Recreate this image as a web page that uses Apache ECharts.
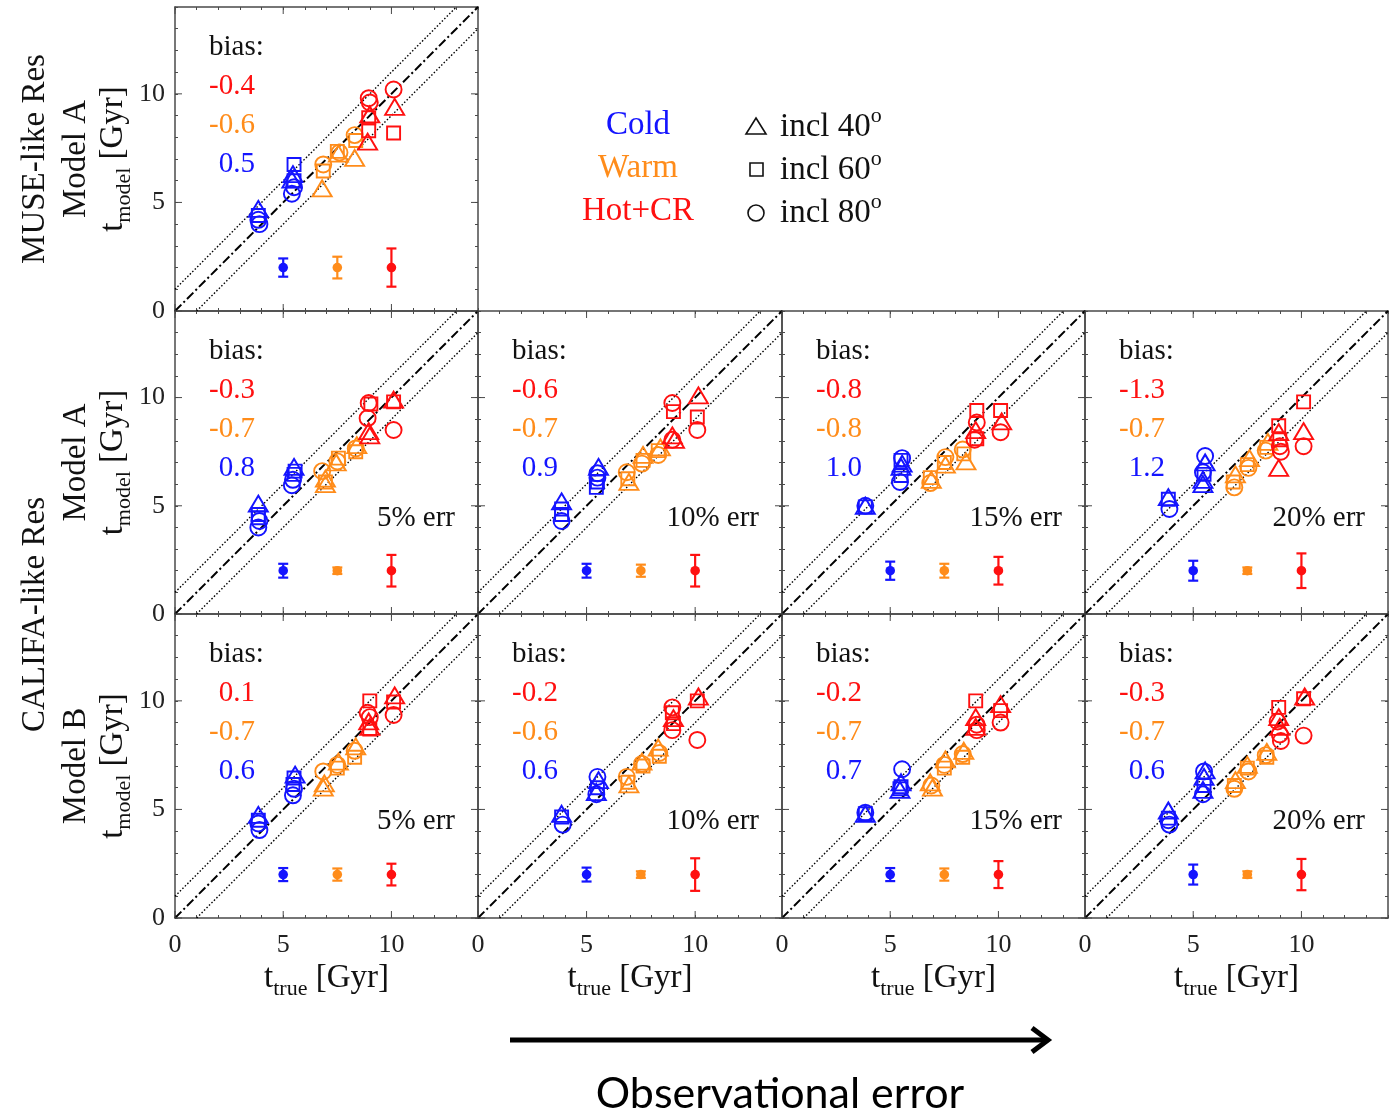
<!DOCTYPE html>
<html>
<head>
<meta charset="utf-8">
<script src="https://cdn.jsdelivr.net/npm/echarts@6/dist/echarts.min.js"></script>
<style>
  html, body { margin: 0; padding: 0; background: #fff; }
  #chart { width: 1393px; height: 1115px; }
</style>
</head>
<body>
<div id="chart"></div>
<script>
// Stellar-age recovery: t_model vs t_true for cold / warm / hot+CR components.
// Each point: [t_true (Gyr), t_model (Gyr), inclination (deg)]

// MUSE-like resolution, Model A
const coldMuseA = [[3.85,4.7,40],[3.85,4.4,60],[3.9,4.0,80],[3.85,4.2,80],[5.45,6.3,40],[5.4,6.05,40],[5.5,6.75,60],[5.5,6.0,60],[5.5,5.7,80],[5.4,5.4,80]];
const warmMuseA = [[6.8,5.65,40],[6.85,6.45,60],[6.85,6.75,80],[7.55,7.25,40],[7.5,7.35,60],[7.6,7.3,80],[8.3,7.05,40],[8.35,7.85,60],[8.3,8.1,80]];
const hotMuseA  = [[9.0,9.05,40],[8.9,7.8,40],[8.95,8.9,60],[8.95,8.3,60],[8.95,9.8,80],[9.0,9.6,80],[10.15,9.4,40],[10.1,8.2,60],[10.1,10.2,80]];

// CALIFA-like resolution, Model A, 5/10/15/20% observational error
const coldA05 = [[3.85,5.1,40],[3.85,4.6,60],[3.85,4.45,60],[3.9,4.3,80],[3.85,4.0,80],[5.5,6.8,40],[5.55,6.6,60],[5.5,6.45,60],[5.45,6.2,80],[5.4,5.95,80]];
const warmA05 = [[6.95,6.25,40],[6.95,6.0,40],[6.95,6.1,60],[6.8,6.6,80],[7.45,7.0,40],[7.55,7.2,60],[7.5,7.05,80],[8.4,7.8,40],[8.35,7.5,60],[8.35,7.65,80]];
const hotA05  = [[8.95,8.45,40],[9.0,8.25,40],[9.05,9.7,60],[8.95,9.75,80],[8.9,9.05,80],[10.1,9.9,40],[10.1,9.8,60],[10.1,8.5,80]];

const coldA10 = [[3.85,5.2,40],[3.85,4.85,60],[3.85,4.6,60],[3.85,4.3,80],[5.55,6.8,40],[5.5,6.5,80],[5.5,6.3,80],[5.5,6.1,60],[5.45,5.85,60]];
const warmA10 = [[6.95,6.1,40],[6.9,6.25,60],[6.85,6.55,80],[7.6,7.35,40],[7.6,7.1,60],[7.55,6.95,80],[8.4,7.7,40],[8.3,7.55,60],[8.3,7.35,80]];
const hotA10  = [[8.95,8.25,40],[9.05,8.05,40],[9.0,9.35,60],[8.95,9.75,80],[8.95,8.05,80],[10.15,10.1,40],[10.1,9.1,60],[10.1,8.5,80]];

const coldA15 = [[3.85,5.0,40],[3.85,4.95,60],[3.85,5.0,80],[5.5,6.8,40],[5.55,6.95,40],[5.5,7.1,60],[5.5,6.4,60],[5.55,7.2,80],[5.45,6.1,80]];
const warmA15 = [[6.9,6.2,40],[6.85,6.3,60],[6.85,6.05,80],[7.55,6.9,40],[7.5,7.0,60],[7.55,7.25,80],[8.5,7.05,40],[8.4,7.4,60],[8.35,7.6,80]];
const hotA15  = [[8.95,8.5,40],[9.0,9.4,60],[9.0,8.1,60],[9.0,8.85,80],[8.9,8.05,80],[10.15,8.9,40],[10.1,9.4,60],[10.1,8.4,80]];

const coldA20 = [[3.85,5.4,40],[3.85,5.3,60],[3.9,4.85,80],[5.55,7.0,40],[5.45,6.2,40],[5.45,6.0,40],[5.5,6.45,60],[5.55,7.3,80],[5.45,6.55,80]];
const warmA20 = [[6.95,6.45,40],[6.85,6.1,60],[6.9,5.85,80],[7.6,7.2,40],[7.5,6.9,60],[7.55,6.75,80],[8.45,7.95,40],[8.4,7.7,60],[8.35,7.55,80]];
const hotA20  = [[8.95,8.4,40],[8.95,6.75,40],[8.95,8.7,60],[9.0,8.05,60],[9.0,7.75,80],[9.05,7.5,80],[10.1,8.45,40],[10.1,9.8,60],[10.1,7.75,80]];

// CALIFA-like resolution, Model B, 5/10/15/20% observational error
const coldB05 = [[3.85,4.75,40],[3.85,4.5,60],[3.85,4.35,80],[3.9,4.05,80],[5.55,6.6,40],[5.5,6.45,60],[5.45,6.15,60],[5.5,5.95,80],[5.45,5.65,80]];
const warmB05 = [[6.9,6.2,40],[6.85,6.0,40],[6.85,6.75,80],[7.55,7.2,40],[7.5,6.9,60],[7.5,7.05,80],[8.35,7.9,40],[8.3,7.4,60],[8.3,7.7,80]];
const hotB05  = [[8.95,9.05,40],[9.0,8.8,40],[9.0,10.0,60],[9.0,8.7,60],[8.9,9.45,80],[9.0,9.25,80],[10.15,10.25,40],[10.1,9.95,60],[10.1,9.35,80]];

const coldB10 = [[3.85,4.8,40],[3.85,4.65,60],[3.9,4.3,80],[5.55,6.35,40],[5.45,5.8,40],[5.5,6.0,60],[5.5,6.5,80],[5.45,5.7,80]];
const warmB10 = [[6.95,6.15,40],[6.9,6.25,60],[6.85,6.5,80],[7.55,7.2,40],[7.6,7.0,60],[7.55,7.1,80],[8.3,7.85,40],[8.35,7.45,60],[8.35,7.6,80]];
const hotB10  = [[9.0,9.2,40],[8.95,9.45,60],[9.0,8.95,60],[8.95,9.7,80],[8.95,8.65,80],[10.15,10.2,40],[10.1,10.0,60],[10.1,8.2,80]];

const coldB15 = [[3.85,4.8,40],[3.85,4.8,60],[3.85,4.85,80],[5.5,6.25,40],[5.45,5.9,40],[5.5,6.05,60],[5.45,5.95,60],[5.55,6.85,80]];
const warmB15 = [[6.85,6.25,40],[6.95,6.0,40],[6.9,6.1,80],[7.55,7.3,40],[7.5,6.9,60],[7.5,7.05,80],[8.4,7.7,40],[8.35,7.4,60],[8.35,7.55,80]];
const hotB15  = [[8.95,9.25,40],[8.95,8.8,40],[8.95,10.0,60],[9.0,8.9,80],[9.0,8.65,80],[10.1,9.85,40],[10.1,9.55,60],[10.1,9.0,80]];

const coldB20 = [[3.85,4.95,40],[3.85,4.6,60],[3.85,4.5,80],[3.9,4.3,80],[5.55,6.8,40],[5.5,6.5,40],[5.45,5.9,40],[5.5,6.1,60],[5.5,6.75,80],[5.45,5.7,80]];
const warmB20 = [[6.95,6.35,40],[6.9,6.1,60],[6.9,5.95,80],[7.5,7.05,40],[7.5,6.9,60],[7.55,6.75,80],[8.4,7.65,40],[8.4,7.4,60],[8.35,7.5,80]];
const hotB20  = [[8.95,9.25,40],[9.0,8.8,40],[8.95,9.7,60],[8.9,9.05,80],[9.0,8.45,80],[9.05,8.15,80],[10.15,10.2,40],[10.1,10.1,60],[10.1,8.4,80]];

// Typical uncertainty per component [cold, warm, hot] (Gyr), shown at t = 2 Gyr
const errMuseA = [0.42, 0.5, 0.88];
const errA05 = [0.32, 0.15, 0.73];
const errA10 = [0.32, 0.28, 0.73];
const errA15 = [0.42, 0.32, 0.64];
const errA20 = [0.46, 0.15, 0.8];
const errB05 = [0.3, 0.28, 0.5];
const errB10 = [0.32, 0.15, 0.75];
const errB15 = [0.3, 0.28, 0.62];
const errB20 = [0.46, 0.15, 0.72];
const errBarX = [5, 7.5, 10];
const errBarY = 2;

// Mean bias per component [cold, warm, hot] (Gyr)
const biasMuseA = [0.5, -0.6, -0.4];
const biasA05 = [0.8, -0.7, -0.3];
const biasA10 = [0.9, -0.7, -0.6];
const biasA15 = [1.0, -0.8, -0.8];
const biasA20 = [1.2, -0.7, -1.3];
const biasB05 = [0.6, -0.7, 0.1];
const biasB10 = [0.6, -0.6, -0.2];
const biasB15 = [0.7, -0.7, -0.2];
const biasB20 = [0.6, -0.7, -0.3];

const errLabels = ['5% err', '10% err', '15% err', '20% err'];
const tickLabels = [0, 5, 10];
const AXIS_MAX = 14;
const BAND = 1;   // ±1 Gyr band around the 1:1 relation

const componentNames = ['Cold', 'Warm', 'Hot+CR'];
const inclinations = [40, 60, 80];

// ---- styling ----
const SERIF = "'Liberation Serif', 'Times New Roman', serif";
const COLORS = ['#1414ff', '#ff8c1a', '#ff1010'];
const SYMBOL = {40: 'triangle', 60: 'rect', 80: 'circle'};
const SYMBOL_SIZE = {40: [19, 16], 60: [13, 13], 80: 16};

const colLeft = [175, 478, 782, 1085];
const colWidth = [303, 304, 303, 303];
const rowTop = [7, 311, 614];
const rowHeight = [304, 303, 304];

const panels = [
  {row: 0, col: 0, comps: [coldMuseA, warmMuseA, hotMuseA], err: errMuseA, bias: biasMuseA, note: null},
  {row: 1, col: 0, comps: [coldA05, warmA05, hotA05], err: errA05, bias: biasA05, note: errLabels[0]},
  {row: 1, col: 1, comps: [coldA10, warmA10, hotA10], err: errA10, bias: biasA10, note: errLabels[1]},
  {row: 1, col: 2, comps: [coldA15, warmA15, hotA15], err: errA15, bias: biasA15, note: errLabels[2]},
  {row: 1, col: 3, comps: [coldA20, warmA20, hotA20], err: errA20, bias: biasA20, note: errLabels[3]},
  {row: 2, col: 0, comps: [coldB05, warmB05, hotB05], err: errB05, bias: biasB05, note: errLabels[0]},
  {row: 2, col: 1, comps: [coldB10, warmB10, hotB10], err: errB10, bias: biasB10, note: errLabels[1]},
  {row: 2, col: 2, comps: [coldB15, warmB15, hotB15], err: errB15, bias: biasB15, note: errLabels[2]},
  {row: 2, col: 3, comps: [coldB20, warmB20, hotB20], err: errB20, bias: biasB20, note: errLabels[3]}
];

const AXIS_COLOR = '#4a4a4a';

function makeAxis(gridIndex, position, showLabel) {
  return {
    type: 'value', gridIndex, position,
    min: 0, max: AXIS_MAX, interval: 1,
    axisLine: {show: true, onZero: false, lineStyle: {color: AXIS_COLOR, width: 1.5}},
    axisTick: {show: true, inside: true, length: 3, lineStyle: {color: AXIS_COLOR, width: 1}},
    axisLabel: {
      show: showLabel, margin: position === 'bottom' ? 14 : 10, fontFamily: SERIF, fontSize: 26, color: '#222',
      formatter: v => tickLabels.includes(v) ? String(v) : ''
    },
    splitLine: {show: false}
  };
}

const grids = [], xAxes = [], yAxes = [], series = [], graphics = [];

panels.forEach((p, i) => {
  grids.push({left: colLeft[p.col], top: rowTop[p.row], width: colWidth[p.col], height: rowHeight[p.row], containLabel: false});
  // primary axes (bottom / left) carry the labels, secondary axes mirror the ticks
  xAxes.push(makeAxis(i, 'bottom', p.row === 2));
  xAxes.push(makeAxis(i, 'top', false));
  yAxes.push(makeAxis(i, 'left', p.col === 0));
  yAxes.push(makeAxis(i, 'right', false));
  const xi = 2 * i, yi = 2 * i;

  // 1:1 relation and ±BAND lines
  series.push({
    type: 'line', xAxisIndex: xi, yAxisIndex: yi, silent: true, symbol: 'none', z: 1,
    data: [[0, 0], [AXIS_MAX, AXIS_MAX]],
    lineStyle: {color: '#000', width: 2, type: [9, 3, 2, 3]}
  });
  series.push({
    type: 'line', xAxisIndex: xi, yAxisIndex: yi, silent: true, symbol: 'none', z: 1,
    data: [[0, BAND], [AXIS_MAX - BAND, AXIS_MAX]],
    lineStyle: {color: '#000', width: 1.4, type: [1.5, 2]}
  });
  series.push({
    type: 'line', xAxisIndex: xi, yAxisIndex: yi, silent: true, symbol: 'none', z: 1,
    data: [[BAND, 0], [AXIS_MAX, AXIS_MAX - BAND]],
    lineStyle: {color: '#000', width: 1.4, type: [1.5, 2]}
  });

  // major ticks, longer than the unit ticks, on all four sides
  series.push({
    type: 'custom', xAxisIndex: xi, yAxisIndex: yi, silent: true, z: 2,
    data: tickLabels.map(v => [v, v]),
    renderItem: (params, api) => {
      const v = api.value(0);
      const lo = api.coord([0, 0]), hi = api.coord([AXIS_MAX, AXIS_MAX]);
      const px = api.coord([v, 0])[0], py = api.coord([0, v])[1];
      const L = 7, st = {stroke: AXIS_COLOR, lineWidth: 1};
      return {type: 'group', children: [
        {type: 'line', shape: {x1: px, y1: lo[1], x2: px, y2: lo[1] - L}, style: st},
        {type: 'line', shape: {x1: px, y1: hi[1], x2: px, y2: hi[1] + L}, style: st},
        {type: 'line', shape: {x1: lo[0], y1: py, x2: lo[0] + L, y2: py}, style: st},
        {type: 'line', shape: {x1: hi[0], y1: py, x2: hi[0] - L, y2: py}, style: st}
      ]};
    }
  });

  // model points, one series per component; marker shape encodes inclination
  p.comps.forEach((arr, c) => {
    series.push({
      type: 'scatter', xAxisIndex: xi, yAxisIndex: yi, silent: true, z: 3,
      data: arr,
      symbol: v => SYMBOL[v[2]],
      symbolSize: v => SYMBOL_SIZE[v[2]],
      itemStyle: {color: 'rgba(0,0,0,0)', borderColor: COLORS[c], borderWidth: 1.9, opacity: 1}
    });
  });

  // typical error bars
  series.push({
    type: 'custom', xAxisIndex: xi, yAxisIndex: yi, silent: true, z: 4,
    data: errBarX.map((x, c) => [x, errBarY, p.err[c], c]),
    renderItem: (params, api) => {
      const x = api.value(0), y = api.value(1), e = api.value(2);
      const col = COLORS[api.value(3)];
      const c0 = api.coord([x, y]), lo = api.coord([x, y - e]), hi = api.coord([x, y + e]);
      const st = {stroke: col, lineWidth: 2.2};
      return {type: 'group', children: [
        {type: 'line', shape: {x1: c0[0], y1: lo[1], x2: c0[0], y2: hi[1]}, style: st},
        {type: 'line', shape: {x1: c0[0] - 5, y1: lo[1], x2: c0[0] + 5, y2: lo[1]}, style: st},
        {type: 'line', shape: {x1: c0[0] - 5, y1: hi[1], x2: c0[0] + 5, y2: hi[1]}, style: st},
        {type: 'circle', shape: {cx: c0[0], cy: c0[1], r: 4.8}, style: {fill: col}}
      ]};
    }
  });

  // bias annotation and error-level note
  const L0 = colLeft[p.col], T0 = rowTop[p.row];
  graphics.push({type: 'text', x: L0 + 34, y: T0 + 40, silent: true,
    style: {text: 'bias:', font: `29px ${SERIF}`, fill: '#111', align: 'left', verticalAlign: 'middle'}});
  [2, 1, 0].forEach((c, k) => {
    graphics.push({type: 'text', x: L0 + 80, y: T0 + 79 + 39 * k, silent: true,
      style: {text: p.bias[c].toFixed(1), font: `29px ${SERIF}`, fill: COLORS[c], align: 'right', verticalAlign: 'middle'}});
  });
  if (p.note) {
    graphics.push({type: 'text', x: L0 + colWidth[p.col] - 23, y: T0 + 207, silent: true,
      style: {text: p.note, font: `29px ${SERIF}`, fill: '#111', align: 'right', verticalAlign: 'middle'}});
  }
});

// ---- axis titles ----
const subRich = {
  a: {fontFamily: SERIF, fontSize: 33, lineHeight: 44, verticalAlign: 'middle', fill: '#111'},
  s: {fontFamily: SERIF, fontSize: 22, lineHeight: 22, verticalAlign: 'bottom', fill: '#111'},
  u: {fontFamily: SERIF, fontSize: 22, lineHeight: 22, verticalAlign: 'top', fill: '#111'}
};
const rowCenter = r => rowTop[r] + rowHeight[r] / 2;
const colCenter = c => colLeft[c] + colWidth[c] / 2;

function vText(x, y, text, size) {
  return {type: 'text', x, y, rotation: Math.PI / 2, silent: true,
    style: {text, font: `${size}px ${SERIF}`, fill: '#111', align: 'center', verticalAlign: 'middle'}};
}
function vRich(x, y, text) {
  return {type: 'text', x, y, rotation: Math.PI / 2, silent: true,
    style: {text, rich: subRich, align: 'center', verticalAlign: 'middle'}};
}

graphics.push(vText(35, rowCenter(0), 'MUSE-like Res', 33));
graphics.push(vText(35, (rowTop[1] + rowTop[2] + rowHeight[2]) / 2, 'CALIFA-like Res', 33));
graphics.push(vText(76, rowCenter(0), 'Model A', 33));
graphics.push(vText(76, rowCenter(1), 'Model A', 33));
graphics.push(vText(76, rowCenter(2), 'Model B', 33));
[0, 1, 2].forEach(r => graphics.push(vRich(113, rowCenter(r), '{a|t}{s|model}{a| [Gyr]}')));
[0, 1, 2, 3].forEach(c => graphics.push({type: 'text', x: colCenter(c), y: 978, silent: true,
  style: {text: '{a|t}{s|true}{a| [Gyr]}', rich: subRich, align: 'center', verticalAlign: 'middle'}}));

// ---- legend: components and inclinations ----
const legendRowY = [125, 168, 211];
componentNames.forEach((name, c) => {
  graphics.push({type: 'text', x: 638, y: legendRowY[c], silent: true,
    style: {text: name, font: `33px ${SERIF}`, fill: COLORS[c], align: 'center', verticalAlign: 'middle'}});
});
const mk = {stroke: '#111', fill: 'none', lineWidth: 1.6};
graphics.push({type: 'polygon', silent: true, shape: {points: [[756, 118], [766, 134], [746, 134]]}, style: mk});
graphics.push({type: 'rect', silent: true, shape: {x: 750, y: 163, width: 13, height: 13}, style: mk});
graphics.push({type: 'circle', silent: true, shape: {cx: 756, cy: 213, r: 8}, style: mk});
inclinations.forEach((inc, k) => {
  graphics.push({type: 'text', x: 780, y: legendRowY[k] + 2, silent: true,
    style: {text: `{a|incl ${inc}}{u|o}`, rich: subRich, align: 'left', verticalAlign: 'middle'}});
});

// ---- arrow: increasing observational error ----
graphics.push({type: 'line', silent: true, shape: {x1: 510, y1: 1040, x2: 1046, y2: 1040},
  style: {stroke: '#000', lineWidth: 5}});
graphics.push({type: 'polyline', silent: true, shape: {points: [[1032, 1028], [1048, 1040], [1032, 1052]]},
  style: {stroke: '#000', lineWidth: 5, fill: 'none', lineJoin: 'miter'}});
graphics.push({type: 'text', x: 780, y: 1094, silent: true,
  style: {text: 'Observational error', font: "43px Lato, 'Open Sans', sans-serif", fill: '#000', align: 'center', verticalAlign: 'middle'}});

const chart = echarts.init(document.getElementById('chart'), null, {renderer: 'canvas'});
chart.setOption({
  backgroundColor: '#fff',
  animation: false,
  grid: grids,
  xAxis: xAxes,
  yAxis: yAxes,
  series,
  graphic: {elements: graphics}
});
</script>
</body>
</html>
